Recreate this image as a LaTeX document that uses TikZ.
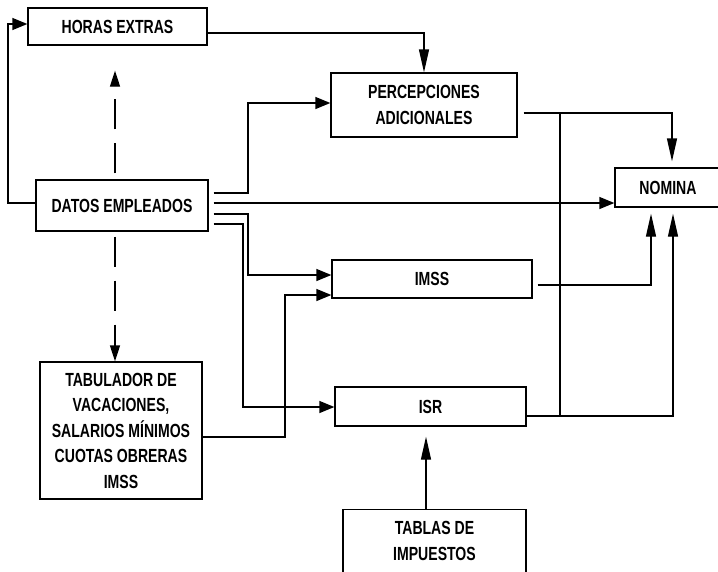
\documentclass[tikz,border=0pt]{standalone}
\usepackage{fontspec}
\setmainfont{Liberation Sans}[FakeStretch=0.74]
\usetikzlibrary{arrows.meta}
\begin{document}
\begin{tikzpicture}[x=1pt,y=-1pt,
  box/.style={draw, line width=1.3pt, rectangle, inner sep=0pt, align=center,
              font=\fontsize{19}{25.5}\selectfont\bfseries},
  con/.style={line width=1.3pt},
  arr/.style={con, -{Triangle[length=15pt,width=12pt]}},
  varr/.style={con, -{Triangle[length=23pt,width=10pt]}},
  dsh/.style={con, -{Triangle[length=16pt,width=10pt]}, dash pattern=on 30pt off 14pt}]
\useasboundingbox (0,0) rectangle (718,571);
\clip (0,0) rectangle (718,571);

\node[box, minimum width=179pt, minimum height=37pt] (he) at (117.5,26.5) {HORAS EXTRAS};
\node[box, minimum width=186pt, minimum height=64pt] (perc) at (424,105) {PERCEPCIONES\\ADICIONALES};
\node[box, minimum width=172pt, minimum height=51pt] (datos) at (122,205.5) {DATOS EMPLEADOS};
\node[box, minimum width=106pt, minimum height=39pt] (nom) at (668,187.5) {NOMINA};
\node[box, minimum width=200pt, minimum height=38pt] (imss) at (432,279) {IMSS};
\node[box, minimum width=191pt, minimum height=39pt] (isr) at (430.5,406.5) {ISR};
\node[box, minimum width=162pt, minimum height=137pt] (tab) at (121,430.5)
  {TABULADOR DE\\VACACIONES,\\SALARIOS MÍNIMOS\\CUOTAS OBRERAS\\IMSS};
\node[box, minimum width=183pt, anchor=north, inner ysep=12pt, text depth=30pt] (tablas) at (434.5,509)
  {TABLAS DE\\IMPUESTOS};

\coordinate (j1) at (560,113);
\coordinate (j2) at (560,416);

\draw[varr] (he.east |- 0,33) -| (perc.north);
\draw[arr, shorten <=5pt] (datos.east |- 0,193) -| (248,103) -- (perc.west |- 0,103);
\draw[arr, shorten <=5pt] (datos.east |- 0,203) -- (nom.west |- 0,203);
\draw[arr, shorten <=5pt] (datos.east |- 0,214) -| (248,275) -- (imss.west |- 0,275);
\draw[arr, shorten <=5pt] (datos.east |- 0,224) -| (243,407) -- (isr.west |- 0,407);
\draw[arr] (tab.east |- 0,437) -| (285,295) -- (imss.west |- 0,295);
\draw[arr] (datos.west |- 0,203) -- (8,203) |- (he.west |- 0,24);
\draw[dsh, shorten <=6pt, shorten >=25pt] (datos.north -| 115,0) -- (he.south -| 115,0);
\draw[dsh, shorten <=5pt] (datos.south -| 115,0) -- (tab.north -| 115,0);
\draw[varr, shorten >=10pt] (tablas.north -| 426,0) -- (isr.south -| 426,0);
\draw[varr, shorten <=6pt, shorten >=6pt] (perc.east |- 0,113) -| (nom.north -| 672,0);
\draw[varr, shorten <=5pt, shorten >=6pt] (imss.east |- 0,285) -| (nom.south -| 651,0);
\draw[varr, shorten >=6pt] (isr.east |- 0,416) -| (nom.south -| 673,0);
\draw[con] (j1) -- (j2);
\end{tikzpicture}
\end{document}
